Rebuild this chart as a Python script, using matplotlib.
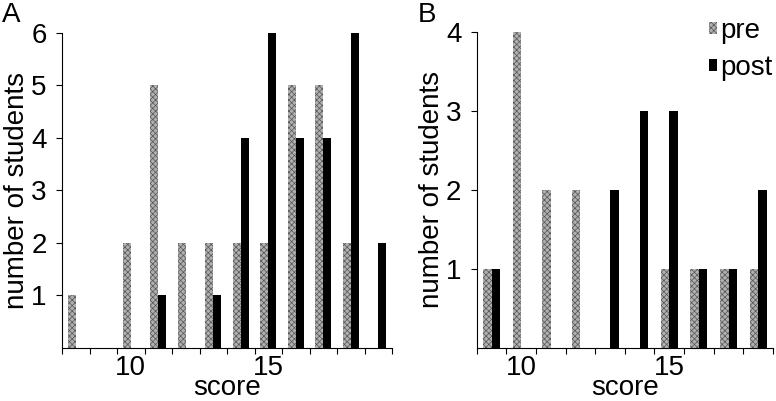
import matplotlib.pyplot as plt
import numpy as np
from matplotlib.patches import Patch

plt.rcParams['font.family'] = ['Liberation Sans', 'DejaVu Sans']
plt.rcParams['hatch.linewidth'] = 0.5

# panel A: score vs number of students
scores_a = np.arange(8, 20)
pre_a = [1, 0, 2, 5, 2, 2, 2, 2, 5, 5, 2, 0]
post_a = [0, 0, 0, 1, 0, 1, 4, 6, 4, 4, 6, 2]

# panel B
scores_b = np.arange(9, 19)
pre_b = [1, 4, 2, 2, 0, 0, 1, 1, 1, 1]
post_b = [1, 0, 0, 0, 2, 3, 3, 1, 1, 2]

pre_style = dict(facecolor='#b0b0b0', edgecolor='#555555', hatch='xxxxxx', linewidth=0)
post_style = dict(facecolor='black', edgecolor='black', linewidth=0)
w = 0.29
fs = 20

fig = plt.figure(figsize=(7.76, 4.01), dpi=100)
ax_a = fig.add_axes([0.0799, 0.1322, 0.4253, 0.7855])
ax_b = fig.add_axes([0.6143, 0.1322, 0.3818, 0.788])


def draw(ax, scores, pre, post, ymax):
    ax.bar(scores - w, pre, width=w, align='edge', **pre_style)
    ax.bar(scores, post, width=w, align='edge', **post_style)
    ax.set_xlim(scores[0] - 0.5, scores[-1] + 0.5)
    ax.set_ylim(0, ymax)
    for s in ['top', 'right']:
        ax.spines[s].set_visible(False)
    for s in ['left', 'bottom']:
        ax.spines[s].set_linewidth(0.8)
    ax.set_xticks([10, 15])
    ax.set_xticks(np.arange(scores[0] - 0.5, scores[-1] + 0.6, 1), minor=True)
    ax.tick_params(axis='x', which='major', length=0, labelsize=fs, pad=5)
    ax.tick_params(axis='x', which='minor', length=4, width=0.8, direction='out')
    ax.set_yticks(np.arange(1, ymax + 1))
    ax.tick_params(axis='y', length=4, width=0.8, labelsize=fs, pad=7)
    ax.set_xlabel('score', fontsize=fs, labelpad=-4)
    ax.set_ylabel('number of students', fontsize=fs, labelpad=1)


draw(ax_a, scores_a, pre_a, post_a, 6)
draw(ax_b, scores_b, pre_b, post_b, 4)

fig.text(0.003, 0.995, 'A', fontsize=fs, va='top', ha='left')
fig.text(0.538, 0.995, 'B', fontsize=fs, va='top', ha='left')

handles = [Patch(**pre_style), Patch(**post_style)]
ax_b.legend(handles, ['pre', 'post'], loc='upper right', bbox_to_anchor=(1.035, 1.08),
            frameon=False, fontsize=fs, handlelength=0.3, handleheight=0.3,
            handletextpad=0.1, labelspacing=0.4, borderaxespad=0)

fig.savefig('out.png', dpi=100)
